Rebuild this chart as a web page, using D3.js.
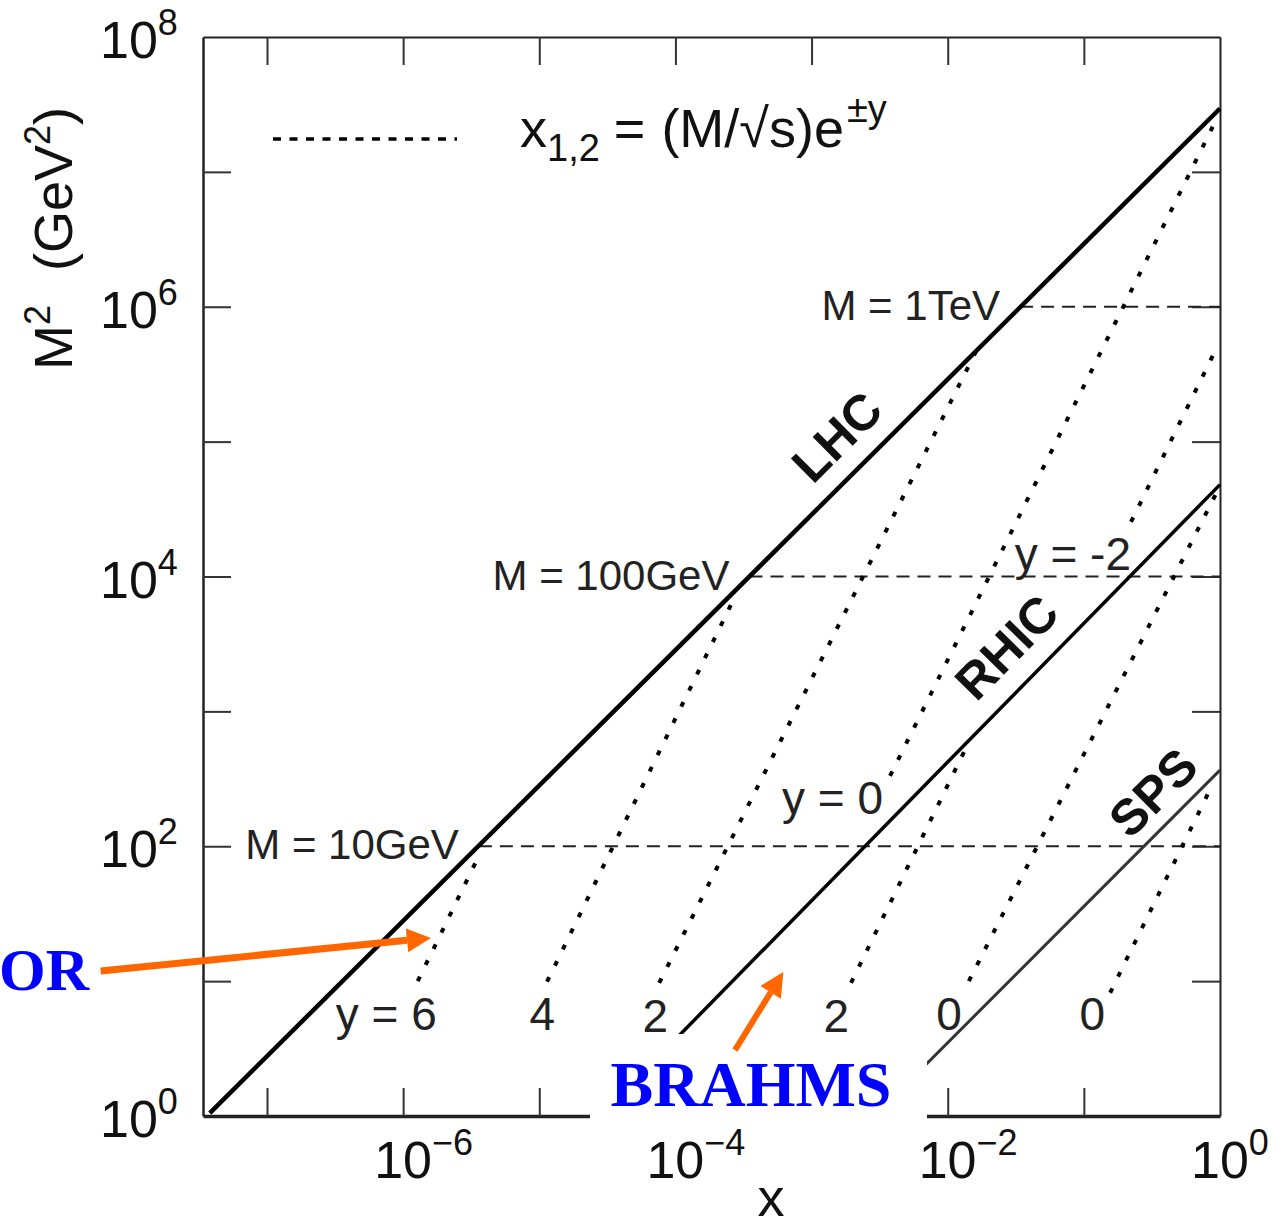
<!DOCTYPE html>
<html>
<head>
<meta charset="utf-8">
<script src="https://cdn.jsdelivr.net/npm/d3@7"></script>
<style>
  body { margin: 0; background: #fff; }
  svg { display: block; font-family: "Liberation Sans", Arial, Helvetica, sans-serif; }
</style>
</head>
<body>
<svg id="chart" width="1281" height="1226"></svg>
<script>
// ---- data ----
const xTickExps = [-7, -6, -5, -4, -3, -2, -1]
const xLabelExps = [-6, -4, -2, 0]
const yTickExps = [1, 2, 3, 4, 5, 6, 7]
const yLabelExps = [0, 2, 4, 6, 8]

// kinematic limit of each machine, [x, M^2] at both ends
const colliderNames = ["LHC", "RHIC", "SPS"]
const lhcLimit = [[3.8e-8, 1.05], [1, 2.95e7]]
const rhicLimit = [[2.8e-5, 1], [1, 4.8e4]]
const spsLimit = [[2.9e-3, 1], [1, 367]]

// lines of constant rapidity, [x, M^2] at both ends
const rapidityNames = ["y = 6", "4", "2", "y = 0", "y = -2", "2", "0", "0"]
const rapidityLines = [
  [[1.28e-6, 10], [3.7e-6, 90]],
  [[1.14e-5, 9.9], [2.7e-4, 6.9e3]],
  [[7.6e-5, 9.7], [1.67e-2, 5.0e5]],
  [[3.77e-3, 332], [0.95, 2.5e7]],
  [[0.222, 2.54e4], [0.967, 5.2e5]],
  [[1.95e-3, 9.7], [1.36e-2, 535]],
  [[1.43e-2, 10], [0.967, 4.4e4]],
  [[0.156, 8.2], [0.84, 260]]
]

// fixed masses M^2 (GeV^2) and where their dashed line starts
const massValues = [1e2, 1e4, 1e6]
const massNames = ["M = 10GeV", "M = 100GeV", "M = 1TeV"]
const massStartX = [3.6e-6, 3.5e-4, 3.4e-2]

// ---- drawing ----
function drawChart(){
  const svg = d3.select("#chart")
  const x = d3.scaleLog().domain([10 ** -7.47, 1]).range([203, 1220])
  const y = d3.scaleLog().domain([1, 1e8]).range([1116, 37])
  const [left, right] = x.range()
  const [bottom, top] = y.range()
  const tickLen = 28

  const line = d3.line().x(d => x(d[0])).y(d => y(d[1]))

  const styleAxis = (g, w) => {
    g.select(".domain").attr("stroke", "#222").attr("stroke-width", w)
    g.selectAll(".tick line").attr("stroke", "#333").attr("stroke-width", 2)
  }
  const xt = xTickExps.map(e => 10 ** e)
  const yt = yTickExps.map(e => 10 ** e)

  // frame with inward ticks on all four sides
  svg.append("g").attr("transform", `translate(0,${top})`)
    .call(d3.axisTop(x).tickValues(xt).tickSize(-tickLen).tickSizeOuter(0).tickFormat(""))
    .call(g => styleAxis(g, 2))
  svg.append("g").attr("transform", `translate(${right},0)`)
    .call(d3.axisRight(y).tickValues(yt).tickSize(-tickLen).tickSizeOuter(0).tickFormat(""))
    .call(g => styleAxis(g, 2))
  svg.append("g").attr("transform", `translate(${left},0)`)
    .call(d3.axisLeft(y).tickValues(yt).tickSize(-tickLen).tickSizeOuter(0).tickFormat(""))
    .call(g => styleAxis(g, 2.5))
  svg.append("g").attr("transform", `translate(0,${bottom})`)
    .call(d3.axisBottom(x).tickValues(xt).tickSize(-tickLen).tickSizeOuter(0).tickFormat(""))
    .call(g => styleAxis(g, 3.5))

  // tick labels 10^n
  const powerLabel = (t, e) => {
    t.append("tspan").text("10")
    t.append("tspan").attr("dy", -23).attr("font-size", 36)
      .text(e < 0 ? "\u2212" + (-e) : e)
  }
  svg.append("g").selectAll("text").data(xLabelExps).join("text")
    .attr("x", e => x(10 ** e) - 29).attr("y", 1178)
    .attr("font-size", 52).attr("fill", "#111")
    .each(function(e){ powerLabel(d3.select(this), e) })
  svg.append("g").selectAll("text").data(yLabelExps).join("text")
    .attr("x", 100).attr("y", e => y(10 ** e) + 21)
    .attr("font-size", 52).attr("fill", "#111")
    .each(function(e){ powerLabel(d3.select(this), e) })

  // axis titles
  svg.append("text").attr("x", 771).attr("y", 1216)
    .attr("text-anchor", "middle").attr("font-size", 54).attr("fill", "#111").text("x")
  const yTitle = svg.append("text")
    .attr("transform", "translate(72,370) rotate(-90)")
    .attr("font-size", 54).attr("fill", "#111")
  yTitle.append("tspan").text("M")
  yTitle.append("tspan").attr("dy", -22).attr("font-size", 36).text("2")
  yTitle.append("tspan").attr("dy", 22).attr("dx", 34).text("(GeV")
  yTitle.append("tspan").attr("dy", -22).attr("font-size", 36).text("2")
  yTitle.append("tspan").attr("dy", 22).text(")")

  // legend
  svg.append("line").attr("x1", 273).attr("x2", 457).attr("y1", 139).attr("y2", 139)
    .attr("stroke", "#000").attr("stroke-width", 3.5).attr("stroke-dasharray", "8 8.5")
  const leg = svg.append("text").attr("x", 520).attr("y", 147)
    .attr("font-size", 54).attr("fill", "#111")
  leg.append("tspan").text("x")
  leg.append("tspan").attr("dy", 14).attr("font-size", 38).text("1,2")
  leg.append("tspan").attr("dy", -14).attr("dx", 14).text("=")
  leg.append("tspan").attr("dx", 16).text("(M/\u221As)e")
  leg.append("tspan").attr("dy", -25).attr("dx", 3).attr("font-size", 38).text("\u00B1y")

  // fixed mass lines
  svg.append("g").selectAll("line").data(massValues).join("line")
    .attr("x1", (d, i) => x(massStartX[i])).attr("x2", right)
    .attr("y1", d => y(d)).attr("y2", d => y(d))
    .attr("stroke", "#222").attr("stroke-width", 2).attr("stroke-dasharray", "13 8")
  svg.append("g").selectAll("text").data(massValues).join("text")
    .attr("x", (d, i) => x(massStartX[i]) - 20).attr("y", d => y(d) + 13)
    .attr("text-anchor", "end").attr("font-size", 42).attr("fill", "#222")
    .text((d, i) => massNames[i])

  // constant rapidity lines
  svg.append("g").selectAll("path").data(rapidityLines).join("path")
    .attr("d", line).attr("fill", "none")
    .attr("stroke", "#000").attr("stroke-width", 4).attr("stroke-dasharray", "5 13")
  const labelNudge = [[19, 49], [8, 48], [9, 49], [-7, 38], [0, 48], [-2, 49], [-7, 49], [-5, 37]]
  svg.append("g").selectAll("text").data(rapidityLines).join("text")
    .attr("x", (d, i) => x(d[0][0]) + labelNudge[i][0])
    .attr("y", (d, i) => y(d[0][1]) + labelNudge[i][1])
    .attr("text-anchor", "end").attr("font-size", 46).attr("fill", "#222")
    .text((d, i) => rapidityNames[i])

  // machine limits
  const limits = [lhcLimit, rhicLimit, spsLimit]
  const limitStroke = ["#000", "#000", "#333"]
  const limitWidth = [4.5, 3.5, 3]
  svg.append("g").selectAll("path").data(limits).join("path")
    .attr("d", line).attr("fill", "none")
    .attr("stroke", (d, i) => limitStroke[i]).attr("stroke-width", (d, i) => limitWidth[i])

  // rotated machine names, placed along each line
  const nameAtX = [2.4e-3, 4.3e-2, 0.47]
  const nameOffset = [37, 38, 31]
  svg.append("g").selectAll("text").data(limits).join("text")
    .attr("transform", (d, i) => {
      const [p0, p1] = d.map(p => [x(p[0]), y(p[1])])
      const ang = Math.atan2(p1[1] - p0[1], p1[0] - p0[0]) * 180 / Math.PI
      const px = x(nameAtX[i])
      const py = p0[1] + (p1[1] - p0[1]) * (px - p0[0]) / (p1[0] - p0[0])
      return `translate(${px},${py}) rotate(${ang})`
    })
    .attr("y", (d, i) => -nameOffset[i])
    .attr("text-anchor", "middle").attr("dominant-baseline", "central")
    .attr("font-size", 50).attr("font-weight", "bold").attr("fill", "#111")
    .text((d, i) => colliderNames[i])

  // pasted-on overlay: white patch with BRAHMS label and arrows
  svg.append("rect").attr("x", 590).attr("y", 1034).attr("width", 337).attr("height", 90)
    .attr("fill", "#fff")
  const serif = '"Liberation Serif", "Times New Roman", serif'
  svg.append("text").attr("x", 751).attr("y", 1106).attr("text-anchor", "middle")
    .style("font-family", serif).attr("font-weight", "bold").attr("font-size", 64)
    .attr("fill", "#0000ff").text("BRAHMS")
  svg.append("text").attr("x", 89).attr("y", 990).attr("text-anchor", "end")
    .style("font-family", serif).attr("font-weight", "bold").attr("font-size", 60)
    .attr("fill", "#0000ff").text("OR")

  const arrows = [
    {from: [6.0e-9, 11.9], to: [1.6e-6, 20.9], w: 7},
    {from: [2.74e-4, 3.08], to: [6.2e-4, 11.7], w: 6}
  ]
  arrows.forEach(a => {
    const x0 = x(a.from[0]), y0 = y(a.from[1]), x1 = x(a.to[0]), y1 = y(a.to[1])
    const ang = Math.atan2(y1 - y0, x1 - x0)
    const len = 24, half = 12
    const bx = x1 - len * Math.cos(ang), by = y1 - len * Math.sin(ang)
    svg.append("line").attr("x1", x0).attr("y1", y0).attr("x2", bx).attr("y2", by)
      .attr("stroke", "#ff6600").attr("stroke-width", a.w)
    svg.append("path")
      .attr("d", `M${x1},${y1}L${bx - half * Math.sin(ang)},${by + half * Math.cos(ang)}L${bx + half * Math.sin(ang)},${by - half * Math.cos(ang)}Z`)
      .attr("fill", "#ff6600")
  })
}

drawChart()
</script>
</body>
</html>
